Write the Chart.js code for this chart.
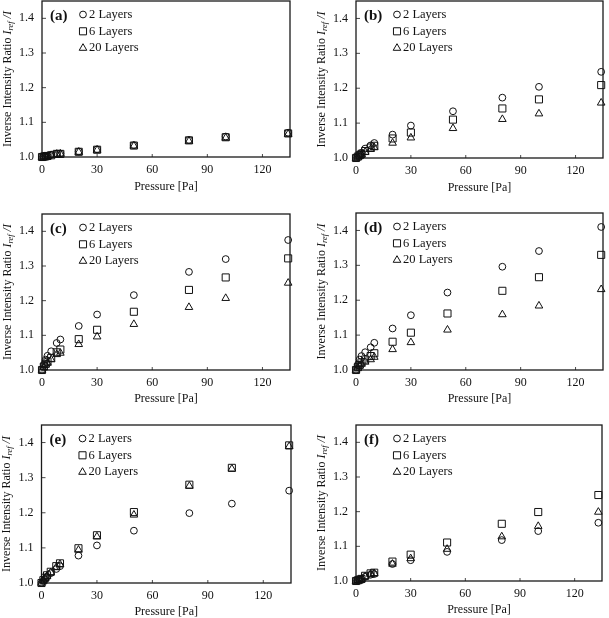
<!DOCTYPE html>
<html>
<head>
<meta charset="utf-8">
<script src="https://cdn.jsdelivr.net/npm/chart.js@4.4.1/dist/chart.umd.min.js"></script>
<style>
  body { margin: 0; background: #fff; }
  #page { position: relative; width: 609px; height: 618px; overflow: hidden; }
  canvas { position: absolute; }
</style>
</head>
<body>
<div id="page"></div>
<script>
'use strict';

const seriesNames = ['2 Layers', '6 Layers', '20 Layers'];
const pressureTicks = [0, 30, 60, 90, 120];
const ratioTicks = [1.0, 1.1, 1.2, 1.3, 1.4];

// (a)
const pressureA = [0, 1, 2, 3, 5, 8, 10, 20, 30, 50, 80, 100, 134];
const a2  = [1.000, 1.001, 1.002, 1.003, 1.006, 1.010, 1.010, 1.016, 1.022, 1.034, 1.049, 1.059, 1.070];
const a6  = [1.000, 1.001, 1.002, 1.003, 1.005, 1.009, 1.009, 1.015, 1.021, 1.033, 1.048, 1.057, 1.068];
const a20 = [1.000, 1.001, 1.001, 1.002, 1.005, 1.008, 1.009, 1.014, 1.020, 1.032, 1.046, 1.055, 1.066];
// (b)
const pressureB = [0, 1, 2, 3, 5, 8, 10, 20, 30, 53, 80, 100, 134];
const b2  = [1.000, 1.005, 1.010, 1.015, 1.027, 1.036, 1.043, 1.067, 1.093, 1.134, 1.173, 1.204, 1.247];
const b6  = [1.000, 1.004, 1.008, 1.012, 1.020, 1.030, 1.035, 1.056, 1.073, 1.110, 1.142, 1.168, 1.209];
const b20 = [1.000, 1.003, 1.006, 1.010, 1.017, 1.025, 1.030, 1.043, 1.058, 1.085, 1.111, 1.127, 1.158];
// (c)
const pressureC = [0, 1, 2, 3, 5, 8, 10, 20, 30, 50, 80, 100, 134];
const c2  = [1.000, 1.015, 1.030, 1.041, 1.054, 1.078, 1.088, 1.127, 1.160, 1.216, 1.283, 1.320, 1.375];
const c6  = [1.000, 1.010, 1.018, 1.025, 1.035, 1.051, 1.059, 1.089, 1.116, 1.168, 1.231, 1.267, 1.322];
const c20 = [1.000, 1.008, 1.015, 1.020, 1.030, 1.045, 1.049, 1.074, 1.096, 1.132, 1.181, 1.207, 1.251];
// (d)
const pressureD = [0, 1, 2, 3, 5, 8, 10, 20, 30, 50, 80, 100, 134];
const d2  = [1.000, 1.015, 1.030, 1.040, 1.051, 1.065, 1.078, 1.119, 1.157, 1.222, 1.296, 1.341, 1.410];
const d6  = [1.000, 1.008, 1.015, 1.022, 1.030, 1.040, 1.048, 1.081, 1.107, 1.162, 1.227, 1.266, 1.330];
const d20 = [1.000, 1.006, 1.012, 1.017, 1.023, 1.030, 1.037, 1.059, 1.079, 1.115, 1.159, 1.184, 1.231];
// (e)
const pressureE = [0, 1, 2, 3, 5, 8, 10, 20, 30, 50, 80, 103, 134];
const e2  = [1.000, 1.006, 1.012, 1.018, 1.028, 1.040, 1.048, 1.078, 1.107, 1.149, 1.199, 1.226, 1.263];
const e6  = [1.000, 1.008, 1.015, 1.022, 1.032, 1.048, 1.056, 1.099, 1.136, 1.202, 1.280, 1.328, 1.392];
const e20 = [1.000, 1.007, 1.013, 1.020, 1.030, 1.045, 1.053, 1.094, 1.132, 1.194, 1.276, 1.325, 1.389];
// (f)
const pressureF = [0, 1, 2, 3, 5, 8, 10, 20, 30, 50, 80, 100, 133];
const f2  = [1.000, 1.002, 1.003, 1.005, 1.012, 1.018, 1.020, 1.049, 1.060, 1.084, 1.118, 1.144, 1.168];
const f6  = [1.000, 1.002, 1.004, 1.006, 1.015, 1.022, 1.024, 1.056, 1.076, 1.111, 1.165, 1.199, 1.248];
const f20 = [1.000, 1.002, 1.003, 1.005, 1.013, 1.020, 1.022, 1.049, 1.065, 1.092, 1.128, 1.158, 1.199];

const panels = [
    { label: '(a)', pressure: pressureA, series: [a2, a6, a20] },
    { label: '(b)', pressure: pressureB, series: [b2, b6, b20] },
    { label: '(c)', pressure: pressureC, series: [c2, c6, c20] },
    { label: '(d)', pressure: pressureD, series: [d2, d6, d20] },
    { label: '(e)', pressure: pressureE, series: [e2, e6, e20] },
    { label: '(f)', pressure: pressureF, series: [f2, f6, f20] },
];

// panel boxes on the page, and the plot frame inside each box
const frames = [
    { x: 0,   y: 0,   w: 305, h: 205, left: 42,   right: 290,   top: 1,  bottom: 157, title: 30 },
    { x: 305, y: 0,   w: 304, h: 205, left: 51,   right: 300.5, top: 1,  bottom: 158, title: 30 },
    { x: 0,   y: 205, w: 305, h: 205, left: 42,   right: 290,   top: 9,  bottom: 165, title: 29 },
    { x: 305, y: 205, w: 304, h: 205, left: 51,   right: 300.5, top: 8,  bottom: 165, title: 29 },
    { x: 0,   y: 410, w: 305, h: 208, left: 41.5, right: 291,   top: 15, bottom: 173, title: 29 },
    { x: 305, y: 410, w: 304, h: 208, left: 51,   right: 297,   top: 15, bottom: 171, title: 29 },
];
// each canvas starts a bit above its panel so Chart.js keeps room for the top label
const LIFT = 14;

const SERIF = '"Liberation Serif", "DejaVu Serif", serif';
const INK = '#111';
const markers = [
    { pointStyle: 'circle',   radius: 3.4 },
    { pointStyle: 'rect',     radius: 5 },
    { pointStyle: 'triangle', radius: 4.4 },
];

Chart.defaults.font.family = SERIF;
Chart.defaults.color = INK;

const paperFrame = {
    id: 'paperFrame',
    beforeDatasetsDraw(chart) {
        const { ctx, chartArea: a, scales: { x, y } } = chart;
        ctx.save();
        ctx.strokeStyle = '#1a1a1a';
        ctx.lineWidth = 1.3;
        ctx.strokeRect(a.left, a.top, a.right - a.left, a.bottom - a.top);
        ctx.lineWidth = 0.8;
        ctx.beginPath();
        x.ticks.forEach(t => {
            if (t.value === 0) return;
            const px = x.getPixelForValue(t.value);
            ctx.moveTo(px, a.bottom);
            ctx.lineTo(px, a.bottom - 3);
        });
        y.ticks.forEach(t => {
            if (t.value === 1) return;
            const py = y.getPixelForValue(t.value);
            ctx.moveTo(a.left, py);
            ctx.lineTo(a.left + 4, py);
        });
        ctx.stroke();
        ctx.restore();
    },
    afterDraw(chart, args, opts) {
        const { ctx, chartArea: a } = chart;
        ctx.save();
        ctx.fillStyle = INK;
        ctx.textBaseline = 'middle';

        // y axis title with italic I_ref / I
        const parts = [
            { t: 'Inverse Intensity Ratio ', f: '12px ' + SERIF, dy: 0 },
            { t: 'I', f: 'italic 12px ' + SERIF, dy: 0 },
            { t: 'ref', f: 'italic 8.5px ' + SERIF, dy: 3 },
            { t: ' /I', f: 'italic 12px ' + SERIF, dy: 0 },
        ];
        let total = 0;
        parts.forEach(p => { ctx.font = p.f; p.w = ctx.measureText(p.t).width; total += p.w; });
        ctx.save();
        ctx.translate(a.left - 34.5, (a.top + a.bottom) / 2);
        ctx.rotate(-Math.PI / 2);
        ctx.textAlign = 'left';
        let cx = -total / 2;
        parts.forEach(p => { ctx.font = p.f; ctx.fillText(p.t, cx, p.dy); cx += p.w; });
        ctx.restore();

        // panel letter
        ctx.font = 'bold 15px ' + SERIF;
        ctx.textAlign = 'left';
        ctx.fillText(opts.label, a.left + 8, a.top + 15.5);

        // legend
        ctx.font = '12.5px ' + SERIF;
        chart.data.datasets.forEach((ds, i) => {
            const ly = a.top + 13.5 + i * 16.8;
            ctx.save();
            ctx.strokeStyle = INK;
            ctx.fillStyle = 'rgba(0,0,0,0)';
            ctx.lineWidth = 1;
            Chart.helpers.drawPoint(ctx, {
                pointStyle: ds.pointStyle, radius: ds.pointRadius, borderWidth: 1, rotation: 0
            }, a.left + 41, ly);
            ctx.restore();
            ctx.fillText(ds.label, a.left + 47, ly);
        });
        ctx.restore();
    }
};

const page = document.getElementById('page');

panels.forEach((panel, k) => {
    const fr = frames[k];
    const cw = fr.w;
    const ch = fr.h + LIFT;
    const top = fr.top + LIFT;
    const bottom = fr.bottom + LIFT;

    const canvas = document.createElement('canvas');
    canvas.width = cw;
    canvas.height = ch;
    canvas.style.left = fr.x + 'px';
    canvas.style.top = (fr.y - LIFT) + 'px';
    canvas.style.width = cw + 'px';
    canvas.style.height = ch + 'px';
    page.appendChild(canvas);

    const datasets = panel.series.map((vals, i) => ({
        label: seriesNames[i],
        data: panel.pressure.map((p, j) => ({ x: p, y: vals[j] })),
        pointStyle: markers[i].pointStyle,
        pointRadius: markers[i].radius,
        pointBorderWidth: 1,
        pointBorderColor: INK,
        pointBackgroundColor: 'rgba(0,0,0,0)',
        showLine: false,
        clip: false,
    }));

    const titlePad = ch - (bottom + fr.title) - 7.2;

    new Chart(canvas, {
        type: 'scatter',
        data: { datasets },
        options: {
            responsive: false,
            animation: false,
            devicePixelRatio: 1,
            events: [],
            layout: { padding: { top: top, left: 0, right: cw - fr.right, bottom: 0 } },
            plugins: {
                legend: { display: false },
                tooltip: { enabled: false },
                paperFrame: { label: panel.label },
            },
            scales: {
                x: {
                    type: 'linear',
                    min: 0,
                    max: 135,
                    afterBuildTicks: s => { s.ticks = pressureTicks.map(v => ({ value: v })); },
                    afterFit: s => {
                        s.height = ch - bottom;
                        s.paddingLeft = 0;
                        s.paddingRight = 0;
                    },
                    grid: { display: false, drawTicks: false },
                    border: { display: false },
                    ticks: { padding: 6, font: { size: 12 }, color: INK, maxRotation: 0,
                             callback: v => String(v) },
                    title: { display: true, text: 'Pressure [Pa]', color: INK,
                             font: { size: 12 }, padding: { top: 0, bottom: titlePad } },
                },
                y: {
                    type: 'linear',
                    min: 1.0,
                    max: 1.45,
                    afterBuildTicks: s => { s.ticks = ratioTicks.map(v => ({ value: v })); },
                    afterFit: s => {
                        s.width = fr.left;
                        s.paddingTop = 0;
                        s.paddingBottom = 0;
                    },
                    grid: { display: false, drawTicks: false },
                    border: { display: false },
                    ticks: { padding: 8, font: { size: 12 }, color: INK,
                             callback: v => Number(v).toFixed(1) },
                },
            },
        },
        plugins: [paperFrame],
    });
});
</script>
</body>
</html>
